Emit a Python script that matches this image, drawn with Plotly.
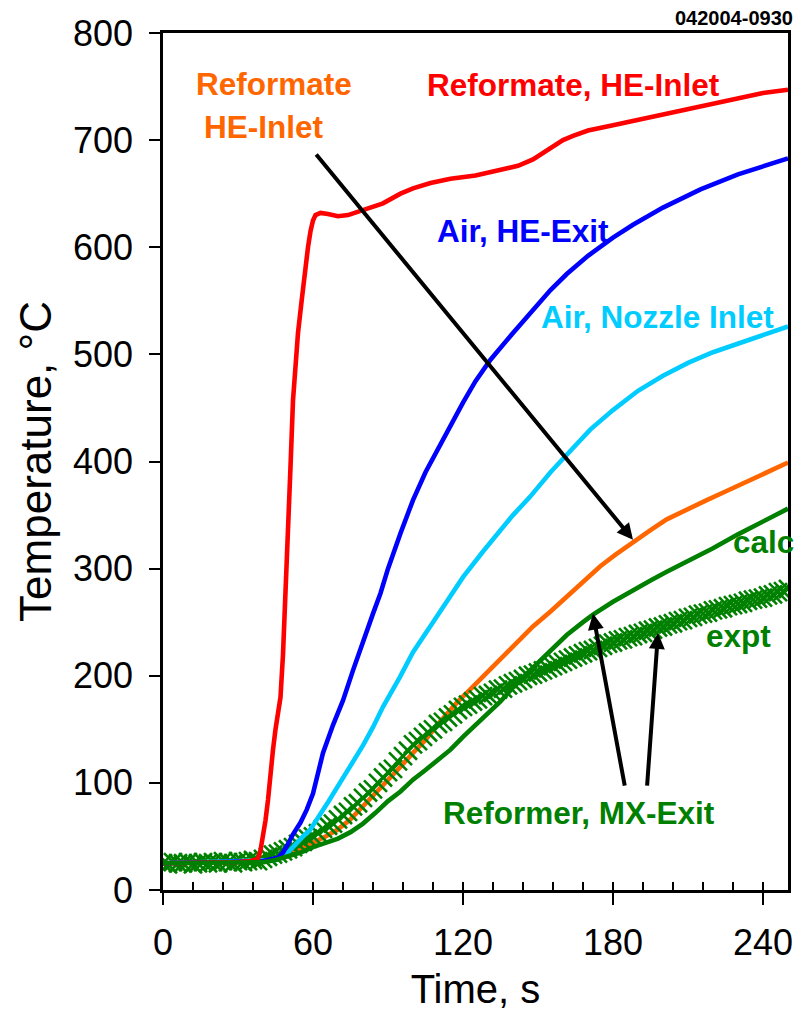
import plotly.graph_objects as go

# ---------------- data ----------------
red_t = [0, 10, 20, 30, 35, 38, 39, 40, 41, 42, 43, 44, 45, 46, 47, 48, 49, 50, 51, 52, 53, 54, 55.5, 57, 58, 59, 60, 61, 63, 66, 70, 74, 78, 82, 88, 95, 100, 107, 115, 125, 135, 142, 148, 152, 156, 160, 164, 170, 180, 190, 201, 210, 220, 230, 240, 250]
red_T = [25, 25, 26, 26, 27, 29, 37, 50, 65, 84, 110, 131, 150, 165, 180, 220, 271, 330, 395, 457, 490, 520, 551, 585, 600, 615, 625, 630, 632, 631, 629, 630, 633, 636, 641, 650, 655, 660, 664, 667, 672, 676, 682, 688, 695, 700, 704, 709, 714, 719, 725, 730, 735, 740, 744, 747]

blue_t = [0, 40, 46, 48, 50, 52, 55, 57.5, 60, 62, 64, 68, 72, 76, 80, 84, 87, 90, 95, 100, 105, 110, 113.5, 120, 125, 131, 140, 147, 155, 161.5, 170, 180, 188, 200, 215, 230, 240, 250]
blue_T = [25, 27, 30, 35, 43, 52, 63, 75, 90, 108, 128, 154, 177, 205, 230, 258, 277, 300, 333, 364, 390, 412, 427, 455, 475, 495, 520, 539, 560, 575, 592, 609, 621, 637, 654, 668, 676, 683]

cyan_t = [0, 45, 50, 53, 56, 58.8, 62, 66, 70, 74.8, 80, 84, 88, 94.8, 100, 108, 114.8, 120, 128, 135, 140, 146.8, 155, 163, 171, 180, 190, 200, 210, 220, 230, 240, 250]
cyan_T = [25, 28, 35, 43, 50, 56, 67, 82, 97, 115, 135, 152, 171, 199, 222, 250, 274, 292, 316, 336, 350, 367, 390, 410, 430, 448, 466, 480, 492, 502, 510, 518, 526]

orange_t = [0, 45, 50, 55, 60, 65, 69.6, 75, 80, 85, 90, 95, 100, 105, 110, 114.8, 118, 122.8, 128, 135, 141, 148, 155, 162, 168, 174.8, 181, 188, 195, 201.5, 210, 217.5, 225, 235, 242, 250]
orange_T = [25, 28, 33, 38, 44, 50, 56, 66, 78, 90, 102, 115, 128, 140, 155, 168, 176, 187, 199, 215, 230, 246, 260, 275, 288, 302, 313, 325, 336, 346, 356, 364, 372, 383, 391, 399]

calc_t = [0, 20, 40, 45, 50, 55, 60, 65, 70, 75, 80, 85, 90, 95, 100, 105, 110, 115, 120, 125, 130, 135, 141.5, 148, 155, 161.5, 168, 172, 180, 188, 195, 201.5, 210, 220, 230, 240, 250]
calc_T = [25, 25, 26, 28, 31, 35, 40, 44, 48, 54, 62, 72, 83, 92, 103, 112, 122, 131, 143, 154, 165, 176, 193, 208, 224, 238, 250, 257, 269, 280, 289, 297, 307, 319, 332, 344, 356]

expt_t = list(range(0, 251, 2))
expt_T = [25, 24, 26, 25, 25, 26, 24, 25, 26, 25, 26, 25, 27, 26, 25, 27, 26, 27, 28, 27,
          29, 31, 33, 34, 36, 38, 40, 43, 45, 48, 50, 53, 57, 60, 62, 66, 70, 73, 78, 81,
          86, 91, 94, 100, 105, 110, 113, 120, 125, 130, 136, 139, 143, 147, 150, 155, 157, 161, 164, 168,
          171, 173, 176, 178, 181, 182, 184, 187, 188, 191, 193, 195, 197, 200, 201, 203, 205, 207, 209, 211,
          213, 215, 217, 219, 221, 223, 224, 226, 228, 230, 231, 233, 234, 236, 237, 239, 240, 242, 243, 245,
          246, 248, 249, 251, 252, 254, 255, 257, 258, 259, 261, 262, 263, 265, 266, 267, 268, 270, 271, 272,
          273, 275, 276, 278, 279, 281]

x_ticks = [0, 60, 120, 180, 240]
x_minor = [0, 12, 24, 36, 48, 60, 72, 84, 96, 108, 120, 132, 144, 156, 168, 180, 192, 204, 216, 228, 240]
y_ticks = [0, 100, 200, 300, 400, 500, 600, 700, 800]

labels = ["Reformate", "HE-Inlet", "Reformate, HE-Inlet", "Air, HE-Exit", "Air, Nozzle Inlet", "calc", "expt", "Reformer, MX-Exit"]
label_x = [44.4, 40.4, 164, 144, 197.8, 240.3, 230, 166.4]
label_y = [752, 712, 751, 615, 535, 325, 237, 72]
label_col = ["#FF6600", "#FF6600", "#FF0000", "#0000FF", "#00CCFF", "#008000", "#008000", "#008000"]

# arrows: tail (x, y) -> tip (x, y)
arrow_tail = [(60.8, 688), (184.8, 96), (193.6, 96)]
arrow_tip = [(188, 327), (172, 258), (198, 240)]

RED, BLUE, CYAN, ORANGE, GREEN = "#FF0000", "#0000FF", "#00CCFF", "#FF6600", "#008000"
FONT = "Liberation Sans, Arial, sans-serif"
LW = 4.6

fig = go.Figure()
fig.add_trace(go.Scatter(x=orange_t, y=orange_T, mode="lines", line=dict(color=ORANGE, width=LW)))
fig.add_trace(go.Scatter(x=calc_t, y=calc_T, mode="lines", line=dict(color=GREEN, width=LW), xaxis="x2"))
fig.add_trace(go.Scatter(x=expt_t, y=expt_T, mode="markers",
                         marker=dict(symbol="x-thin", size=18, color=GREEN, line=dict(color=GREEN, width=2.6))))
fig.add_trace(go.Scatter(x=cyan_t, y=cyan_T, mode="lines", line=dict(color=CYAN, width=LW)))
fig.add_trace(go.Scatter(x=blue_t, y=blue_T, mode="lines", line=dict(color=BLUE, width=LW)))
fig.add_trace(go.Scatter(x=red_t, y=red_T, mode="lines", line=dict(color=RED, width=LW)))

annotations = []
for txt, x, y, c in zip(labels, label_x, label_y, label_col):
    annotations.append(dict(x=x, y=y, xref="x", yref="y", text="<b>%s</b>" % txt, showarrow=False,
                            font=dict(family=FONT, size=31.5, color=c), xanchor="center", yanchor="middle"))
for (tx, ty), (hx, hy) in zip(arrow_tail, arrow_tip):
    annotations.append(dict(x=hx, y=hy, ax=tx, ay=ty, xref="x", yref="y", axref="x", ayref="y",
                            text="", showarrow=True, arrowhead=2, arrowsize=0.8, arrowwidth=4,
                            arrowcolor="black"))
annotations.append(dict(x=1.011, y=1.0175, xref="paper", yref="paper", text="<b>042004-0930</b>",
                        showarrow=False, xanchor="right", yanchor="middle",
                        font=dict(family=FONT, size=20, color="black")))

# page body has an 8px default margin, so the figure is offset by (8, 8)
fig.update_layout(
    width=799, height=1003,
    margin=dict(l=155, r=19, t=25, b=121, autoexpand=False),
    paper_bgcolor="white", plot_bgcolor="white",
    showlegend=False,
    font=dict(family=FONT, color="black"),
    annotations=annotations,
    xaxis=dict(range=[0, 250], tickvals=x_ticks, ticks="outside", ticklen=12, tickwidth=2,
               tickcolor="black", showline=True, linecolor="black", linewidth=2.5, mirror=True,
               showgrid=False, zeroline=False, tickfont=dict(size=36), ticklabelstandoff=7,
               automargin=False,
               title=dict(text="Time, s", font=dict(size=40), standoff=15)),
    xaxis2=dict(range=[0, 250], overlaying="x", anchor="y", side="bottom", tickvals=x_minor,
                ticks="inside", ticklen=8, tickwidth=2, tickcolor="black", showticklabels=False,
                showline=False, showgrid=False, zeroline=False, automargin=False),
    yaxis=dict(range=[0, 800], tickvals=y_ticks, ticks="outside", ticklen=11, tickwidth=2,
               tickcolor="black", showline=True, linecolor="black", linewidth=2.5, mirror=True,
               showgrid=False, zeroline=False, tickfont=dict(size=36), ticklabelstandoff=9,
               automargin=False,
               title=dict(text="Temperature, °C", font=dict(size=44), standoff=8)),
)

fig.write_html("out.html")
